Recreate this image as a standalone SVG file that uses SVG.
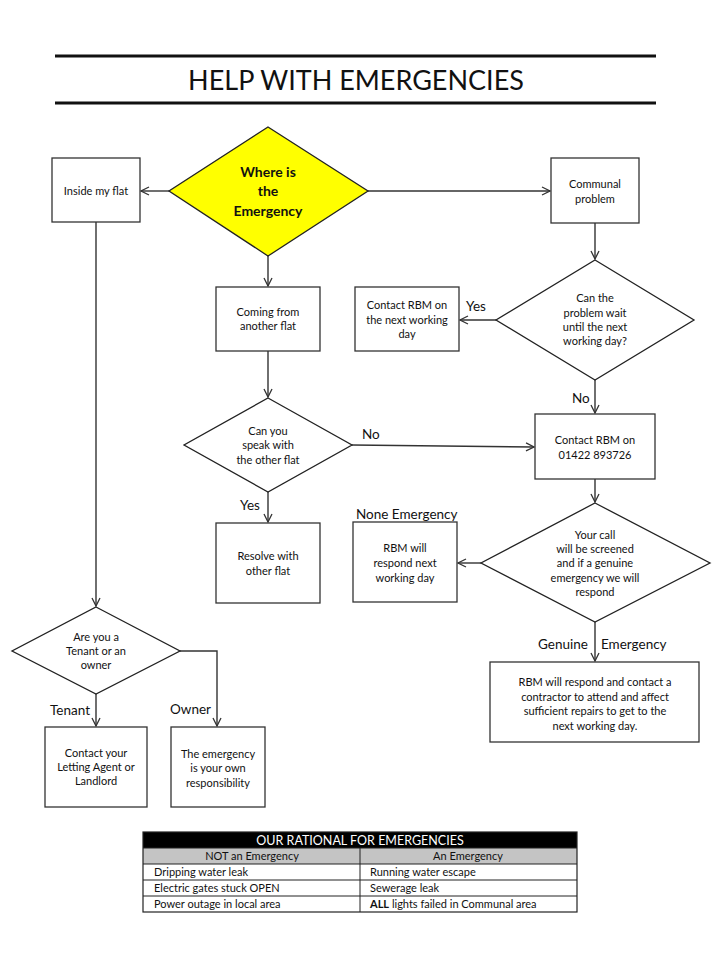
<svg xmlns="http://www.w3.org/2000/svg" width="720" height="960" viewBox="0 0 720 960">
<defs>
<style>
text{font-family:Lato,"Open Sans","Liberation Sans",sans-serif;fill:#111;}
.t{font-size:11px;text-anchor:middle;}
.lbl{font-size:13.5px;}
.box{fill:#fff;stroke:#333;stroke-width:1.3;}
.dia{fill:#fff;stroke:#222;stroke-width:1.3;}
.c{fill:none;stroke:#333;stroke-width:1.4;marker-end:url(#ah);}
.tb{font-size:11px;}
</style>
<marker id="ah" viewBox="0 0 10 10" refX="9" refY="5" markerWidth="10" markerHeight="10" markerUnits="userSpaceOnUse" orient="auto">
<path d="M1,1 L9,5 L1,9" fill="none" stroke="#333" stroke-width="1.3"/>
</marker>
</defs>
<rect width="720" height="960" fill="#fff"/>

<g id="title">
<line x1="55" y1="56" x2="656" y2="56" stroke="#111" stroke-width="3"/>
<line x1="55" y1="103" x2="656" y2="103" stroke="#111" stroke-width="3"/>
<text x="356" y="90" style="font-size:27px;text-anchor:middle">HELP WITH EMERGENCIES</text>
</g>

<g id="connectors">
<line class="c" x1="169" y1="191" x2="141" y2="191"/>
<line class="c" x1="368" y1="191" x2="550" y2="191"/>
<line class="c" x1="595" y1="223" x2="595" y2="259"/>
<line class="c" x1="496" y1="320" x2="460" y2="320"/>
<line class="c" x1="595" y1="380" x2="595" y2="413"/>
<line class="c" x1="595" y1="479" x2="595" y2="502"/>
<line class="c" x1="481" y1="563" x2="458" y2="563"/>
<line class="c" x1="595" y1="622" x2="595" y2="661"/>
<line class="c" x1="268" y1="256" x2="268" y2="286"/>
<line class="c" x1="268" y1="351" x2="268" y2="397"/>
<line class="c" x1="352" y1="445" x2="534" y2="447"/>
<line class="c" x1="268" y1="492" x2="268" y2="522"/>
<line class="c" x1="96" y1="222" x2="96" y2="606"/>
<line class="c" x1="96" y1="694" x2="96" y2="726"/>
<polyline class="c" points="180,651 217,651 217,726"/>
<text class="lbl" x="466" y="311">Yes</text>
<text class="lbl" x="572" y="403">No</text>
<text class="lbl" x="362" y="439">No</text>
<text class="lbl" x="240" y="510">Yes</text>
<text class="lbl" x="356" y="519">None Emergency</text>
<text class="lbl" x="538" y="649">Genuine</text>
<text class="lbl" x="601" y="649">Emergency</text>
<text class="lbl" x="50" y="715">Tenant</text>
<text class="lbl" x="170" y="714">Owner</text>
</g>

<g id="where">
<polygon points="268,127 368,191 268,256 169,191" fill="#ffff00" stroke="#222" stroke-width="1.3"/>
<text class="t" x="268" y="177" style="font-size:14px;font-weight:bold">Where is</text>
<text class="t" x="268" y="196" style="font-size:14px;font-weight:bold">the</text>
<text class="t" x="268" y="216" style="font-size:14px;font-weight:bold">Emergency</text>
</g>

<g id="inside">
<rect class="box" x="52" y="158" width="88" height="64"/>
<text class="t" x="96" y="195">Inside my flat</text>
</g>

<g id="communal">
<rect class="box" x="551" y="158" width="88" height="65"/>
<text class="t" x="595" y="188">Communal</text>
<text class="t" x="595" y="203">problem</text>
</g>

<g id="canwait">
<polygon class="dia" points="595,260 694,320 595,380 496,320"/>
<text class="t" x="595" y="302">Can the</text>
<text class="t" x="595" y="317">problem wait</text>
<text class="t" x="595" y="331">until the next</text>
<text class="t" x="595" y="345">working day?</text>
</g>

<g id="nextday">
<rect class="box" x="355" y="287" width="104" height="64"/>
<text class="t" x="407" y="309">Contact RBM on</text>
<text class="t" x="407" y="324">the next working</text>
<text class="t" x="407" y="338">day</text>
</g>

<g id="contact">
<rect class="box" x="535" y="414" width="120" height="65"/>
<text class="t" x="595" y="444">Contact RBM on</text>
<text class="t" x="595" y="459">01422 893726</text>
</g>

<g id="screened">
<polygon class="dia" points="595,503 710,563 595,622 481,563"/>
<text class="t" x="595" y="539">Your call</text>
<text class="t" x="595" y="553">will be screened</text>
<text class="t" x="595" y="567">and if a genuine</text>
<text class="t" x="595" y="582">emergency we will</text>
<text class="t" x="595" y="596">respond</text>
</g>

<g id="respondnext">
<rect class="box" x="353" y="522" width="104" height="80"/>
<text class="t" x="405" y="552">RBM will</text>
<text class="t" x="405" y="567">respond next</text>
<text class="t" x="405" y="582">working day</text>
</g>

<g id="contractor">
<rect class="box" x="490" y="662" width="209" height="80"/>
<text class="t" x="595" y="686">RBM will respond and contact a</text>
<text class="t" x="595" y="701">contractor to attend and affect</text>
<text class="t" x="595" y="715">sufficient repairs to get to the</text>
<text class="t" x="595" y="730">next working day.</text>
</g>

<g id="another">
<rect class="box" x="216" y="287" width="104" height="64"/>
<text class="t" x="268" y="316">Coming from</text>
<text class="t" x="268" y="330">another flat</text>
</g>

<g id="speak">
<polygon class="dia" points="268,398 352,445 268,492 184,445"/>
<text class="t" x="268" y="435">Can you</text>
<text class="t" x="268" y="449">speak with</text>
<text class="t" x="268" y="464">the other flat</text>
</g>

<g id="resolve">
<rect class="box" x="216" y="523" width="104" height="80"/>
<text class="t" x="268" y="560">Resolve with</text>
<text class="t" x="268" y="575">other flat</text>
</g>

<g id="tenantowner">
<polygon class="dia" points="96,607 180,651 96,694 12,651"/>
<text class="t" x="96" y="641">Are you a</text>
<text class="t" x="96" y="655">Tenant or an</text>
<text class="t" x="96" y="669">owner</text>
</g>

<g id="letting">
<rect class="box" x="45" y="727" width="102" height="80"/>
<text class="t" x="96" y="757">Contact your</text>
<text class="t" x="96" y="771">Letting Agent or</text>
<text class="t" x="96" y="785">Landlord</text>
</g>

<g id="own">
<rect class="box" x="171" y="727" width="94" height="80"/>
<text class="t" x="218" y="758">The emergency</text>
<text class="t" x="218" y="772">is your own</text>
<text class="t" x="218" y="787">responsibility</text>
</g>

<g id="table">
<rect x="143" y="832" width="434" height="16" fill="#000"/>
<rect x="143" y="848" width="434" height="16" fill="#c4c4c4"/>
<rect x="143" y="832" width="434" height="80" fill="none" stroke="#222" stroke-width="1.2"/>
<line x1="143" y1="848" x2="577" y2="848" stroke="#222" stroke-width="1"/>
<line x1="143" y1="864" x2="577" y2="864" stroke="#222" stroke-width="1.2"/>
<line x1="143" y1="880" x2="577" y2="880" stroke="#222" stroke-width="1"/>
<line x1="143" y1="896" x2="577" y2="896" stroke="#222" stroke-width="1"/>
<line x1="360" y1="848" x2="360" y2="912" stroke="#222" stroke-width="1"/>
<text x="360" y="845" style="font-size:12.5px;text-anchor:middle;fill:#fff">OUR RATIONAL FOR EMERGENCIES</text>
<text class="tb" x="252" y="860" text-anchor="middle">NOT an Emergency</text>
<text class="tb" x="468" y="860" text-anchor="middle">An Emergency</text>
<text class="tb" x="154" y="876">Dripping water leak</text>
<text class="tb" x="154" y="892">Electric gates stuck OPEN</text>
<text class="tb" x="154" y="908">Power outage in local area</text>
<text class="tb" x="370" y="876">Running water escape</text>
<text class="tb" x="370" y="892">Sewerage leak</text>
<text class="tb" x="370" y="908"><tspan font-weight="bold">ALL</tspan> lights failed in Communal area</text>
</g>
</svg>
